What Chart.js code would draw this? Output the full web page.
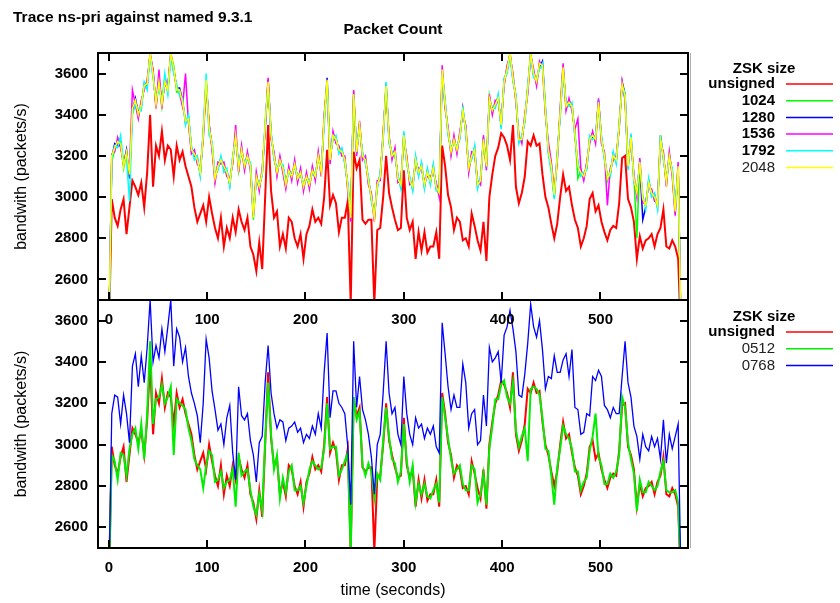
<!DOCTYPE html>
<html>
<head>
<meta charset="utf-8">
<script src="https://cdn.jsdelivr.net/npm/chart.js@4.4.1/dist/chart.umd.min.js"></script>
<style>
  html, body { margin: 0; padding: 0; background: #fff; }
  #wrap { position: relative; width: 840px; height: 603px; }
  canvas { position: absolute; left: 0; top: 0; }
</style>
</head>
<body>
<div id="wrap">
  <canvas id="chart-bottom" width="840" height="603"></canvas>
  <canvas id="chart-top" width="840" height="603"></canvas>
</div>
<script>
// ── data (packets/s, one sample every 3 s) ───────────────────────────────
const TIMES = [
  0, 3, 6, 9, 12, 15, 18, 21, 24, 27, 30, 33, 36, 39, 42, 45, 48, 51, 54, 57,
  60, 63, 66, 69, 72, 75, 78, 81, 84, 87, 90, 93, 96, 99, 102, 105, 108, 111, 114, 117,
  120, 123, 126, 129, 132, 135, 138, 141, 144, 147, 150, 153, 156, 159, 162, 165, 168, 171, 174, 177,
  180, 183, 186, 189, 192, 195, 198, 201, 204, 207, 210, 213, 216, 219, 222, 225, 228, 231, 234, 237,
  240, 243, 246, 249, 252, 255, 258, 261, 264, 267, 270, 273, 276, 279, 282, 285, 288, 291, 294, 297,
  300, 303, 306, 309, 312, 315, 318, 321, 324, 327, 330, 333, 336, 339, 342, 345, 348, 351, 354, 357,
  360, 363, 366, 369, 372, 375, 378, 381, 384, 387, 390, 393, 396, 399, 402, 405, 408, 411, 414, 417,
  420, 423, 426, 429, 432, 435, 438, 441, 444, 447, 450, 453, 456, 459, 462, 465, 468, 471, 474, 477,
  480, 483, 486, 489, 492, 495, 498, 501, 504, 507, 510, 513, 516, 519, 522, 525, 528, 531, 534, 537,
  540, 543, 546, 549, 552, 555, 558, 561, 564, 567, 570, 573, 576, 579, 582
];

const UNSIGNED = [
  2300, 2990, 2900, 2860, 2940, 2990, 2820, 2950, 3080, 3050,
  3010, 3070, 2950, 3120, 3400, 3050, 3250, 3200, 3320, 3180,
  3250, 3230, 3100, 3250, 3180, 3220, 3150, 3100, 3050, 2950,
  2880, 2920, 2960, 2880, 3000, 2920, 2850, 2800, 2900, 2760,
  2850, 2800, 2900, 2830, 2940, 2880, 2840, 2900, 2760, 2720,
  2640, 2780, 2650, 3000, 3350, 3030, 2900, 2930, 2760, 2820,
  2750, 2900, 2880, 2800, 2760, 2820, 2700, 2820, 2860, 2940,
  2880, 2900, 2870, 3000, 3230, 2960, 3010, 2970, 2830, 2900,
  2900, 2980, 2480, 3220, 3140, 3180, 2890, 2870, 2890, 2890,
  2480, 2840, 2850, 3000, 3200, 3020, 2950, 2890, 2840, 2850,
  3130, 2900, 2840, 2880, 2700, 2830, 2740, 2830, 2730, 2760,
  2760, 2830, 2700, 3250, 3150, 3010, 2950, 2840, 2900, 2880,
  2790, 2800, 2760, 2920, 2860, 2790, 2740, 2880, 2690, 3000,
  3110, 3200, 3240, 3310, 3290, 3250, 3180, 3350, 3050, 2970,
  3020, 3100, 3270, 3250, 3300, 3250, 3260, 3110, 3000, 2950,
  2870, 2800, 2870, 3000, 3110, 3030, 3050, 2960, 2890, 2850,
  2760, 2800, 2860, 2990, 3020, 2930, 2960, 2880, 2830, 2790,
  2840, 2860, 2850, 2970, 3190, 3200, 2990, 2950, 2880, 2700,
  2810, 2750, 2790, 2800, 2820, 2760, 2820, 2850, 2940, 2760,
  2750, 2790, 2760, 2700, 2300
];

// top panel, signed zones
const ZSK_1024 = [
  2300, 3170, 3230, 3260, 3270, 3140, 3210, 3100, 3440, 3460,
  3390, 3460, 3530, 3560, 3690, 3590, 3460, 3550, 3440, 3570,
  3510, 3690, 3640, 3510, 3510, 3450, 3380, 3370, 3220, 3220,
  3170, 3130, 3290, 3560, 3330, 3260, 3080, 3160, 3170, 3160,
  3110, 3080, 3170, 3310, 3130, 3240, 3140, 3210, 3140, 2890,
  3110, 3040, 3130, 3340, 3550, 3290, 3210, 3110, 3190, 3130,
  3050, 3140, 3090, 3170, 3080, 3130, 3040, 3110, 3050, 3140,
  3090, 3210, 3110, 3390, 3560, 3170, 3310, 3270, 3240, 3210,
  3190, 3040, 2890, 3510, 3210, 3360, 3190, 3190, 3070, 3010,
  2890, 3070, 3090, 3310, 3530, 3290, 3190, 3230, 3080, 3070,
  3290, 3190, 3070, 3060, 3170, 3130, 3140, 3070, 3110, 3090,
  3130, 3060, 3010, 3610, 3440, 3330, 3210, 3290, 3220, 3310,
  3410, 3340, 3130, 3210, 3220, 3070, 3070, 3290, 3140, 3490,
  3410, 3460, 3470, 3360, 3550, 3630, 3690, 3590, 3470, 3290,
  3270, 3390, 3510, 3690, 3610, 3550, 3650, 3640, 3410, 3240,
  3160, 3020, 3180, 3420, 3640, 3430, 3470, 3430, 3320, 3090,
  3130, 3090, 3160, 3270, 3310, 3270, 3450, 3270, 3210, 3080,
  3130, 3190, 3190, 3340, 3540, 3480, 3160, 3280, 3100, 2800,
  3180, 2980, 2970, 3060, 3030, 2990, 2970, 3270, 3210, 3060,
  3210, 3110, 2920, 3160, 2300
];

const ZSK_1280 = [
  2300, 3190, 3260, 3250, 3250, 3160, 3230, 3090, 3420, 3480,
  3410, 3440, 3550, 3540, 3700, 3610, 3440, 3570, 3460, 3550,
  3530, 3700, 3620, 3530, 3530, 3470, 3360, 3390, 3240, 3200,
  3190, 3110, 3310, 3560, 3350, 3240, 3100, 3140, 3190, 3140,
  3130, 3060, 3190, 3290, 3150, 3220, 3160, 3190, 3160, 2910,
  3090, 3060, 3110, 3340, 3570, 3310, 3190, 3130, 3170, 3150,
  3070, 3120, 3110, 3150, 3100, 3110, 3060, 3090, 3070, 3120,
  3110, 3190, 3130, 3370, 3580, 3190, 3290, 3290, 3220, 3230,
  3170, 3060, 2910, 3490, 3230, 3340, 3210, 3170, 3090, 2990,
  2910, 3050, 3110, 3290, 3550, 3270, 3210, 3210, 3100, 3050,
  3310, 3170, 3090, 3040, 3190, 3110, 3160, 3050, 3130, 3070,
  3150, 3040, 3030, 3610, 3460, 3310, 3230, 3270, 3240, 3290,
  3430, 3320, 3150, 3190, 3240, 3050, 3090, 3270, 3160, 3470,
  3430, 3440, 3490, 3340, 3570, 3610, 3700, 3570, 3490, 3270,
  3290, 3370, 3530, 3700, 3590, 3570, 3630, 3660, 3430, 3220,
  3140, 3000, 3200, 3400, 3620, 3450, 3450, 3450, 3300, 3160,
  3110, 3110, 3140, 3290, 3290, 3290, 3470, 3290, 3190, 3100,
  3110, 3210, 3170, 3350, 3560, 3500, 3140, 3300, 3080, 3030,
  3160, 2890, 2950, 3080, 3010, 3010, 2950, 3300, 3190, 3080,
  3190, 3130, 2940, 3140, 2300
];

const ZSK_1536 = [
  2300, 3210, 3220, 3290, 3240, 3170, 3200, 3130, 3520, 3450,
  3380, 3470, 3520, 3570, 3690, 3620, 3430, 3620, 3430, 3580,
  3540, 3690, 3610, 3540, 3500, 3440, 3600, 3360, 3210, 3230,
  3160, 3140, 3280, 3550, 3360, 3230, 3070, 3170, 3160, 3170,
  3100, 3090, 3160, 3350, 3120, 3250, 3130, 3220, 3130, 2920,
  3120, 3030, 3140, 3330, 3580, 3280, 3220, 3100, 3200, 3120,
  3040, 3150, 3080, 3180, 3070, 3140, 3030, 3120, 3040, 3150,
  3080, 3220, 3100, 3400, 3550, 3160, 3320, 3260, 3250, 3200,
  3200, 3030, 2880, 3520, 3200, 3370, 3180, 3200, 3060, 3020,
  2880, 3080, 3080, 3320, 3520, 3300, 3180, 3240, 3070, 3080,
  3280, 3200, 3060, 3070, 3160, 3140, 3130, 3080, 3100, 3100,
  3120, 3070, 3000, 3640, 3430, 3340, 3200, 3300, 3210, 3320,
  3400, 3350, 3120, 3220, 3210, 3080, 3060, 3300, 3130, 3500,
  3400, 3470, 3460, 3370, 3540, 3640, 3690, 3600, 3460, 3300,
  3260, 3400, 3500, 3690, 3620, 3540, 3660, 3630, 3400, 3270,
  3170, 3030, 3170, 3430, 3650, 3420, 3480, 3420, 3330, 3380,
  3140, 3080, 3170, 3260, 3320, 3260, 3480, 3260, 3220, 2960,
  3140, 3180, 3200, 3330, 3560, 3470, 3170, 3270, 3110, 3000,
  3190, 2970, 2980, 3050, 3040, 2980, 2980, 3260, 3220, 3050,
  3220, 3100, 2910, 3170, 2300
];

const ZSK_1792 = [
  2300, 3180, 3250, 3240, 3300, 3170, 3190, 2980, 3400, 3450,
  3430, 3420, 3560, 3520, 3690, 3580, 3480, 3530, 3470, 3600,
  3500, 3680, 3600, 3550, 3490, 3480, 3350, 3400, 3250, 3180,
  3200, 3100, 3320, 3600, 3300, 3270, 3110, 3130, 3200, 3120,
  3140, 3050, 3200, 3280, 3170, 3210, 3170, 3180, 3170, 2930,
  3080, 3070, 3100, 3370, 3540, 3320, 3180, 3140, 3160, 3160,
  3080, 3110, 3120, 3140, 3110, 3100, 3070, 3080, 3080, 3110,
  3120, 3180, 3140, 3350, 3560, 3200, 3280, 3300, 3210, 3240,
  3160, 3070, 2920, 3480, 3240, 3330, 3220, 3160, 3100, 2980,
  2920, 3040, 3120, 3280, 3560, 3260, 3220, 3200, 3110, 3040,
  3320, 3160, 3100, 3030, 3200, 3100, 3170, 3040, 3140, 3060,
  3160, 3030, 3040, 3600, 3470, 3300, 3240, 3260, 3250, 3280,
  3440, 3310, 3160, 3180, 3250, 3040, 3100, 3260, 3170, 3460,
  3440, 3430, 3500, 3330, 3580, 3600, 3690, 3560, 3500, 3260,
  3300, 3360, 3540, 3690, 3580, 3580, 3620, 3650, 3440, 3210,
  3120, 2990, 3210, 3390, 3610, 3460, 3440, 3460, 3290, 3170,
  3100, 3120, 3130, 3300, 3280, 3300, 3440, 3300, 3180, 3110,
  3100, 3220, 3160, 3360, 3530, 3510, 3130, 3310, 3070, 3040,
  3150, 3010, 2940, 3090, 3000, 3020, 2940, 3300, 3180, 3090,
  3180, 3140, 2950, 3130, 2300
];

const ZSK_2048 = [
  2300, 3200, 3240, 3270, 3260, 3150, 3220, 3110, 3430, 3470,
  3400, 3450, 3540, 3550, 3700, 3600, 3450, 3560, 3450, 3560,
  3520, 3700, 3630, 3520, 3520, 3460, 3370, 3380, 3230, 3210,
  3180, 3120, 3300, 3570, 3340, 3250, 3090, 3150, 3180, 3150,
  3120, 3070, 3180, 3300, 3140, 3230, 3150, 3200, 3150, 2900,
  3100, 3050, 3120, 3350, 3560, 3300, 3200, 3120, 3180, 3140,
  3060, 3130, 3100, 3160, 3090, 3120, 3050, 3100, 3060, 3130,
  3100, 3200, 3120, 3380, 3570, 3180, 3300, 3280, 3230, 3220,
  3180, 3050, 2900, 3500, 3220, 3350, 3200, 3180, 3080, 3000,
  2900, 3060, 3100, 3300, 3540, 3280, 3200, 3220, 3090, 3060,
  3300, 3180, 3080, 3050, 3180, 3120, 3150, 3060, 3120, 3080,
  3140, 3050, 3020, 3620, 3450, 3320, 3220, 3280, 3230, 3300,
  3420, 3330, 3140, 3200, 3230, 3060, 3080, 3280, 3150, 3480,
  3420, 3450, 3480, 3350, 3560, 3620, 3700, 3580, 3480, 3280,
  3280, 3380, 3520, 3700, 3600, 3560, 3650, 3640, 3420, 3230,
  3150, 3010, 3190, 3410, 3630, 3440, 3460, 3440, 3310, 3150,
  3120, 3100, 3150, 3280, 3300, 3280, 3460, 3280, 3200, 3090,
  3120, 3200, 3180, 3345, 3550, 3490, 3150, 3290, 3090, 3020,
  3170, 2990, 2960, 3070, 3020, 3000, 2960, 3280, 3200, 3070,
  3200, 3120, 2930, 3150, 2300
];

// bottom panel
const ZSK_0512 = [
  2300, 2950, 2920, 2830, 2960, 2950, 2850, 2980, 3050, 3080,
  2980, 3100, 2930, 3150, 3500, 3100, 3220, 3230, 3290, 3200,
  3230, 3280, 2950, 3220, 3200, 3190, 3170, 3080, 3020, 2930,
  2900, 2880, 2790, 2900, 2970, 2950, 2820, 2830, 2870, 2790,
  2820, 2830, 2880, 2700, 2960, 2850, 2870, 2880, 2780, 2700,
  2660, 2760, 2680, 3020, 3300, 3050, 2880, 2950, 2740, 2840,
  2770, 2870, 2900, 2780, 2780, 2800, 2720, 2800, 2880, 2920,
  2900, 2880, 2890, 2980, 3200, 2980, 2990, 2990, 2850, 2880,
  2920, 2960, 2480, 3230, 3120, 3160, 2900, 2850, 2910, 2870,
  2740, 2860, 2830, 3020, 3180, 3040, 2930, 2910, 2820, 2870,
  3100, 2920, 2820, 2900, 2720, 2810, 2760, 2810, 2750, 2740,
  2780, 2810, 2720, 3230, 3130, 3030, 2930, 2860, 2880, 2900,
  2810, 2780, 2780, 2900, 2880, 2720, 2760, 2860, 2710, 2980,
  3090, 3220, 3220, 3290, 3310, 3230, 3200, 3300, 3070, 2990,
  3040, 3080, 2920, 3270, 3280, 3270, 3240, 3130, 2980, 2970,
  2850, 2710, 2890, 2980, 3090, 3050, 3030, 2980, 2870, 2870,
  2780, 2820, 2840, 2970, 3040, 3150, 2940, 2900, 2810, 2810,
  2860, 2840, 2870, 2950, 3230, 3180, 3010, 2930, 2860, 2680,
  2830, 2770, 2770, 2820, 2800, 2780, 2800, 2870, 2920, 2780,
  2770, 2770, 2780, 2720, 2300
];

const ZSK_0768 = [
  2300, 3150, 3240, 3230, 3100, 3240, 3150, 3010, 3380, 3440,
  3280, 3430, 3300, 3470, 3700, 3400, 3480, 3420, 3560, 3450,
  3570, 3700, 3380, 3560, 3520, 3400, 3470, 3330, 3250, 3200,
  3140, 3010, 3200, 3510, 3420, 3260, 3170, 3070, 3100, 3000,
  3130, 3190, 2960, 2830, 3280, 3140, 3120, 3150, 3020, 2950,
  2820, 3010, 3040, 3300, 3480, 3250, 3150, 3080, 3120, 3110,
  3020, 3080, 3090, 3110, 3060, 3080, 3010, 3050, 3030, 3090,
  3050, 3150, 3080, 3350, 3540, 3130, 3260, 3260, 3200, 3180,
  3150, 2990, 2710, 3500, 3180, 3330, 3170, 3120, 3050, 2940,
  2760, 3000, 3050, 3250, 3500, 3250, 3150, 3180, 3050, 3000,
  3330, 3150, 3050, 3000, 3130, 3080, 3100, 3030, 3080, 3050,
  3090, 2990, 2960, 3590, 3440, 3280, 3170, 3240, 3180, 3180,
  3390, 3300, 3080, 3150, 3170, 3000, 3020, 3240, 3090, 3470,
  3400, 3420, 3450, 3300, 3530, 3570, 3650, 3560, 3450, 3240,
  3230, 3340, 3490, 3680, 3570, 3520, 3600, 3460, 3270, 3330,
  3320, 3430, 3350, 3350, 3410, 3440, 3330, 3460, 3180, 3170,
  3050, 3060, 3150, 3140, 3330, 3310, 3360, 3330, 3190, 3170,
  3130, 3180, 3150, 3150, 3330, 3500, 3300, 3230, 3090, 3040,
  2930, 3050, 2990, 2970, 3040, 2990, 3030, 2930, 3120, 2910,
  3050, 2980, 3040, 3100, 2300
];

const X_TICKS = [0, 100, 200, 300, 400, 500];
const Y_TICKS = [2600, 2800, 3000, 3200, 3400, 3600];

// ── drawing helpers ──────────────────────────────────────────────────────
const FONT = '"Liberation Sans", Arial, Helvetica, sans-serif';
const TICK = 8;
const points = (vals) => vals.map((v, i) => ({ x: TIMES[i], y: v }));

function series(label, vals, color, width, order) {
  return { label, data: points(vals), borderColor: color, backgroundColor: color,
           borderWidth: width, pointRadius: 0, tension: 0, order };
}

// frame, inward ticks, key and free text (gnuplot look)
const gnuplotLook = {
  id: 'gnuplotLook',
  afterDatasetsDraw(chart, args, opts) {
    const { ctx, chartArea: a } = chart;
    const x = chart.scales.x, y = chart.scales.y;
    ctx.save();
    if (opts.edgeLine) {
      ctx.strokeStyle = '#b0b0b0';
      ctx.lineWidth = 1;
      ctx.beginPath();
      ctx.moveTo(a.right + 2.5, a.top); ctx.lineTo(a.right + 2.5, opts.edgeLine);
      ctx.stroke();
    }
    ctx.strokeStyle = '#000';
    ctx.lineWidth = 2;
    ctx.strokeRect(a.left, a.top, a.right - a.left, a.bottom - a.top);
    ctx.beginPath();
    X_TICKS.forEach((v) => {
      const px = Math.round(x.getPixelForValue(v));
      ctx.moveTo(px, a.bottom); ctx.lineTo(px, a.bottom - TICK);
      if (opts.topTicks) { ctx.moveTo(px, a.top); ctx.lineTo(px, a.top + TICK); }
    });
    Y_TICKS.forEach((v) => {
      const py = Math.round(y.getPixelForValue(v));
      ctx.moveTo(a.left, py); ctx.lineTo(a.left + TICK, py);
      ctx.moveTo(a.right, py); ctx.lineTo(a.right - TICK, py);
    });
    ctx.stroke();

    // key
    ctx.fillStyle = '#000';
    ctx.textBaseline = 'middle';
    ctx.font = 'bold 15px ' + FONT;
    ctx.textAlign = 'center';
    ctx.fillText('ZSK size', 764, opts.keyY - 15);
    chart.data.datasets.forEach((ds, i) => {
      const ky = opts.keyY + i * 16.7;
      ctx.textAlign = 'right';
      ctx.font = (ds.keyBold ? 'bold ' : '') + '15px ' + FONT;
      ctx.fillStyle = ds.keyBold ? '#000' : '#222';
      ctx.fillText(ds.label, 775, ky);
      ctx.strokeStyle = ds.borderColor;
      ctx.lineWidth = 1.5;
      ctx.beginPath();
      ctx.moveTo(786, ky); ctx.lineTo(833, ky);
      ctx.stroke();
    });

    // y axis title
    ctx.save();
    ctx.fillStyle = '#000';
    ctx.font = '16px ' + FONT;
    ctx.textAlign = 'center';
    ctx.translate(22, (a.top + a.bottom) / 2);
    ctx.rotate(-Math.PI / 2);
    ctx.fillText('bandwith (packets/s)', 0, 0);
    ctx.restore();

    (opts.texts || []).forEach((t) => {
      ctx.fillStyle = '#000';
      ctx.font = t.font;
      ctx.textAlign = t.align;
      ctx.textBaseline = 'alphabetic';
      ctx.fillText(t.text, t.x, t.y);
    });
    ctx.restore();
  }
};

function makeOptions(box, xAxisHeight, plug) {
  return {
    responsive: false,
    animation: false,
    devicePixelRatio: 1,
    layout: { padding: { top: box.top, right: 840 - box.right, left: 0, bottom: 0 } },
    plugins: { legend: { display: false }, tooltip: { enabled: false }, gnuplotLook: plug },
    scales: {
      x: {
        type: 'linear', min: -11, max: 589,
        grid: { display: false, drawTicks: false }, border: { display: false },
        ticks: { color: '#000', padding: 11, maxRotation: 0, callback: (v) => String(v),
                 font: { family: FONT, size: 15, weight: 'bold' } },
        afterBuildTicks: (s) => { s.ticks = X_TICKS.map((v) => ({ value: v })); },
        afterFit: (s) => { s.height = xAxisHeight; }
      },
      y: {
        min: 2500, max: 3700,
        grid: { display: false, drawTicks: false }, border: { display: false },
        ticks: { color: '#000', padding: 10, callback: (v) => String(v),
                 font: { family: FONT, size: 15, weight: 'bold' } },
        afterBuildTicks: (s) => { s.ticks = Y_TICKS.map((v) => ({ value: v })); },
        afterFit: (s) => { s.width = box.left; }
      }
    }
  };
}

// ── top panel ────────────────────────────────────────────────────────────
const topSets = [
  series('unsigned', UNSIGNED, '#ff0000', 2, 5),
  series('1024', ZSK_1024, '#00ff00', 1.5, 4),
  series('1280', ZSK_1280, '#0000ff', 1.5, 3),
  series('1536', ZSK_1536, '#ff00ff', 1.5, 2),
  series('1792', ZSK_1792, '#00ffff', 1.5, 1),
  series('2048', ZSK_2048, '#ffff00', 1.5, 0)
];
topSets.forEach((d, i) => { d.keyBold = i < 5; });

new Chart(document.getElementById('chart-top'), {
  type: 'line',
  data: { datasets: topSets },
  plugins: [gnuplotLook],
  options: makeOptions({ left: 98, top: 53, right: 688 }, 303, {
    topTicks: true, keyY: 84, edgeLine: 548,
    texts: [
      { text: 'Trace ns-pri against named 9.3.1', x: 13, y: 22, align: 'left', font: 'bold 15.5px ' + FONT },
      { text: 'Packet Count', x: 393, y: 34, align: 'center', font: 'bold 15.5px ' + FONT }
    ]
  })
});

// ── bottom panel ─────────────────────────────────────────────────────────
const bottomSets = [
  series('unsigned', UNSIGNED, '#ff0000', 2, 2),
  series('0512', ZSK_0512, '#00ee00', 2, 1),
  series('0768', ZSK_0768, '#0000ff', 1.3, 0)
];
bottomSets.forEach((d, i) => { d.keyBold = i === 0; });

new Chart(document.getElementById('chart-bottom'), {
  type: 'line',
  data: { datasets: bottomSets },
  plugins: [gnuplotLook],
  options: makeOptions({ left: 98, top: 300, right: 688 }, 55, {
    topTicks: false, keyY: 332,
    texts: [
      { text: 'time (seconds)', x: 393, y: 595, align: 'center', font: '16px ' + FONT }
    ]
  })
});
</script>
</body>
</html>
